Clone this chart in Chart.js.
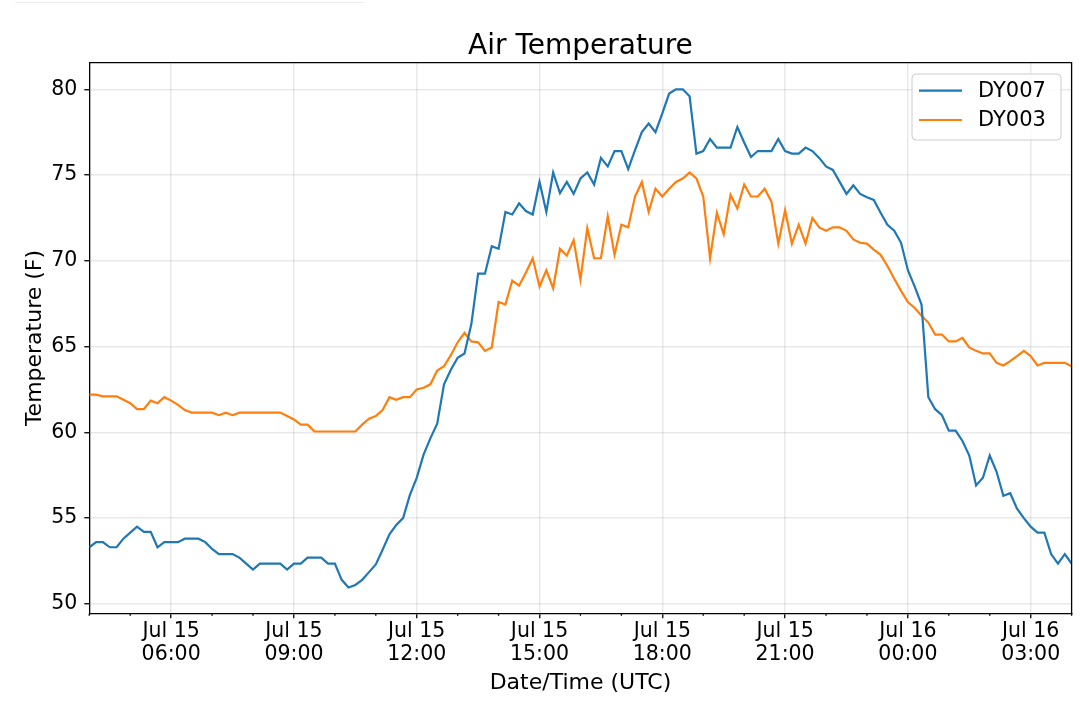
<!DOCTYPE html>
<html>
<head>
<meta charset="utf-8">
<title>Air Temperature</title>
<script src="https://cdn.jsdelivr.net/npm/chart.js"></script>
<style>
  html, body { margin: 0; padding: 0; background: #fff; }
  #wrap { position: relative; width: 1080px; height: 710px; }
  #strip { position: absolute; left: 15px; top: 2px; width: 350px; height: 1px; background: #eeeeee; }
</style>
</head>
<body>
<div id="wrap">
  <canvas id="chart" width="1080" height="710"></canvas>
  <div id="strip"></div>
</div>
<script>
// readings every 10 minutes, first one at Jul 15 04:00 UTC
const startHour = 4;
const stepMinutes = 10;

const dy007 = [
  53.3, 53.6, 53.6, 53.3, 53.3, 53.8, 54.15, 54.5, 54.2, 54.2, 53.3, 53.6,
  53.6, 53.6, 53.8, 53.8, 53.8, 53.6, 53.2, 52.9, 52.9, 52.9, 52.7, 52.35,
  52.0, 52.35, 52.35, 52.35, 52.35, 52.0, 52.35, 52.35, 52.7, 52.7, 52.7, 52.35,
  52.35, 51.4, 50.95, 51.1, 51.4, 51.85, 52.3, 53.15, 54.05, 54.6, 55.0, 56.35,
  57.35, 58.7, 59.65, 60.5, 62.8, 63.65, 64.35, 64.6, 66.3, 69.25, 69.25, 70.85,
  70.7, 72.85, 72.7, 73.35, 72.9, 72.7, 74.6, 72.85, 75.15, 73.95, 74.6, 73.9,
  74.8, 75.15, 74.45, 76.0, 75.5, 76.4, 76.4, 75.35, 76.45, 77.5, 78.0, 77.5,
  78.6, 79.75, 80.0, 80.0, 79.6, 76.25, 76.4, 77.1, 76.6, 76.6, 76.6, 77.8,
  76.9, 76.05, 76.4, 76.4, 76.4, 77.1, 76.4, 76.25, 76.25, 76.6, 76.4, 76.0,
  75.5, 75.3, 74.6, 73.9, 74.4, 73.9, 73.7, 73.55, 72.8, 72.1, 71.75, 71.05,
  69.45, 68.5, 67.45, 62.05, 61.35, 61.0, 60.1, 60.1, 59.5, 58.65, 56.9, 57.35,
  58.65, 57.7, 56.3, 56.45, 55.55, 55.0, 54.5, 54.15, 54.15, 52.9, 52.35, 52.9,
  52.35
];

const dy003 = [
  62.2, 62.2, 62.1, 62.1, 62.1, 61.9, 61.7, 61.35, 61.35, 61.85, 61.7, 62.05,
  61.85, 61.6, 61.3, 61.15, 61.15, 61.15, 61.15, 61.0, 61.15, 61.0, 61.15, 61.15,
  61.15, 61.15, 61.15, 61.15, 61.15, 60.95, 60.75, 60.45, 60.45, 60.05, 60.05, 60.05,
  60.05, 60.05, 60.05, 60.05, 60.45, 60.8, 60.95, 61.3, 62.05, 61.9, 62.05, 62.05,
  62.5, 62.6, 62.8, 63.6, 63.85, 64.5, 65.25, 65.8, 65.3, 65.25, 64.75, 64.95,
  67.6, 67.45, 68.85, 68.55, 69.3, 70.15, 68.5, 69.45, 68.4, 70.7, 70.3, 71.2,
  68.9, 71.9, 70.15, 70.15, 72.6, 70.35, 72.1, 71.95, 73.75, 74.6, 72.85, 74.2,
  73.75, 74.2, 74.6, 74.8, 75.15, 74.8, 73.75, 70.15, 72.8, 71.55, 73.85, 73.05,
  74.45, 73.75, 73.75, 74.2, 73.45, 71.0, 72.95, 71.0, 72.1, 71.0, 72.5, 71.95,
  71.75, 71.95, 71.95, 71.75, 71.25, 71.05, 71.0, 70.65, 70.35, 69.7, 68.95, 68.25,
  67.6, 67.25, 66.8, 66.4, 65.7, 65.7, 65.3, 65.3, 65.5, 64.95, 64.75, 64.6,
  64.6, 64.05, 63.9, 64.15, 64.45, 64.75, 64.45, 63.9, 64.05, 64.05, 64.05, 64.05,
  63.85
];

const seriesNames = ["DY007", "DY003"];
const seriesColors = ["#1f77b4", "#ff7f0e"];
const chartTitle = "Air Temperature";

// x axis is minutes after Jul 15 04:00 UTC
const majorTickMinutes = [120, 300, 480, 660, 840, 1020, 1200, 1380];
const minorTickMinutes = [0, 60, 180, 240, 360, 420, 540, 600, 720, 780, 900, 960, 1080, 1140, 1260, 1320, 1440];
const yTicks = [50, 55, 60, 65, 70, 75, 80];

const FONT = "'DejaVu Sans', sans-serif";
Chart.defaults.font.family = FONT;
Chart.defaults.color = "#000";

const toPoints = (values) => values.map((v, i) => ({ x: i * stepMinutes, y: v }));

// "Jul 15" / "06:00" style label
const timeLabel = (minutes) => {
  const hours = startHour + minutes / 60;
  const day = 15 + Math.floor(hours / 24);
  const hh = String(hours % 24).padStart(2, "0");
  return ["Jul " + day, hh + ":00"];
};

// title over the plot, box around it, minor ticks and the legend in the upper right
const framePlugin = {
  id: "frame",
  afterDraw(chart) {
    const { ctx, chartArea } = chart;
    const xScale = chart.scales.x;
    ctx.save();

    ctx.fillStyle = "#000";
    ctx.font = "28px " + FONT;
    ctx.textAlign = "center";
    ctx.textBaseline = "alphabetic";
    ctx.fillText(chartTitle, (chartArea.left + chartArea.right) / 2, chartArea.top - 8.6);

    ctx.strokeStyle = "#000";
    ctx.lineWidth = 1.3;
    ctx.beginPath();
    ctx.moveTo(chartArea.left, chartArea.top);
    ctx.lineTo(chartArea.right, chartArea.top);
    ctx.lineTo(chartArea.right, chartArea.bottom);
    ctx.stroke();

    ctx.beginPath();
    minorTickMinutes.forEach((m) => {
      const px = xScale.getPixelForValue(m);
      ctx.moveTo(px, chartArea.bottom);
      ctx.lineTo(px, chartArea.bottom + 2.5);
    });
    ctx.stroke();

    const boxW = 149, boxH = 66;
    const bx = chartArea.right - 10.6 - boxW;
    const by = chartArea.top + 11.3;
    ctx.beginPath();
    ctx.roundRect(bx, by, boxW, boxH, 4);
    ctx.fillStyle = "rgba(255,255,255,0.8)";
    ctx.fill();
    ctx.strokeStyle = "#cccccc";
    ctx.lineWidth = 1;
    ctx.stroke();

    ctx.font = "21px " + FONT;
    ctx.textBaseline = "middle";
    ctx.textAlign = "left";
    chart.data.datasets.forEach((ds, i) => {
      const ly = by + 16.7 + i * 29.3;
      ctx.strokeStyle = ds.borderColor;
      ctx.lineWidth = 2.2;
      ctx.beginPath();
      ctx.moveTo(bx + 7, ly);
      ctx.lineTo(bx + 50, ly);
      ctx.stroke();
      ctx.fillStyle = "#000";
      ctx.fillText(ds.label, bx + 66, ly + 1);
    });

    ctx.restore();
  },
};

const gridColor = "rgba(0,0,0,0.085)";

new Chart(document.getElementById("chart"), {
  type: "line",
  data: {
    datasets: [
      {
        label: seriesNames[0],
        data: toPoints(dy007),
        borderColor: seriesColors[0],
        backgroundColor: seriesColors[0],
        borderWidth: 2.2,
        pointRadius: 0,
        tension: 0,
      },
      {
        label: seriesNames[1],
        data: toPoints(dy003),
        borderColor: seriesColors[1],
        backgroundColor: seriesColors[1],
        borderWidth: 2.2,
        pointRadius: 0,
        tension: 0,
      },
    ],
  },
  options: {
    responsive: false,
    animation: false,
    events: [],
    layout: { padding: { left: 0, right: 8.4, top: 62.7, bottom: 0 } },
    plugins: {
      legend: { display: false },
      tooltip: { enabled: false },
      title: { display: false },
    },
    scales: {
      x: {
        type: "linear",
        min: 0,
        max: 1440,
        afterBuildTicks: (scale) => {
          scale.ticks = majorTickMinutes.map((v) => ({ value: v }));
        },
        afterFit: (scale) => {
          scale.height = 96.7;
        },
        ticks: {
          autoSkip: false,
          maxRotation: 0,
          color: "#000",
          padding: 1.5,
          font: { size: 20.5, lineHeight: 1.14 },
          callback: (value) => timeLabel(value),
        },
        grid: { color: gridColor, lineWidth: 1.5, tickLength: 5, tickColor: "#000", tickWidth: 1.3 },
        border: { color: "#000", width: 1.3 },
        title: {
          display: true,
          text: "Date/Time (UTC)",
          color: "#000",
          font: { size: 22, lineHeight: 1.2 },
          padding: { top: 0, bottom: 14 },
        },
      },
      y: {
        min: 49.45,
        max: 81.55,
        afterBuildTicks: (scale) => {
          scale.ticks = yTicks.map((v) => ({ value: v }));
        },
        afterFit: (scale) => {
          scale.width = 89.3;
        },
        ticks: {
          color: "#000",
          padding: 7,
          font: { size: 20.5 },
        },
        grid: { color: gridColor, lineWidth: 1.5, tickLength: 5, tickColor: "#000", tickWidth: 1.3 },
        border: { color: "#000", width: 1.3 },
        title: {
          display: true,
          text: "Temperature (F)",
          color: "#000",
          font: { size: 22, lineHeight: 1.2 },
          padding: { top: 22, bottom: 0 },
        },
      },
    },
  },
  plugins: [framePlugin],
});
</script>
</body>
</html>
